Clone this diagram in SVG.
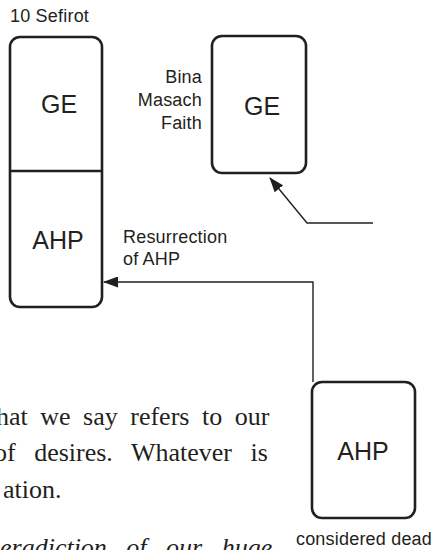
<svg xmlns="http://www.w3.org/2000/svg" width="437" height="550" viewBox="0 0 437 550">
<style>
.box{fill:#fff;stroke:#231f20;stroke-width:2.6}
.lbl{font-family:"Liberation Sans",Arial,sans-serif;fill:#231f20}
.big{font-size:25px;text-anchor:middle}
.sm{font-size:18px;letter-spacing:0.2px}
.conn{fill:none;stroke:#231f20;stroke-width:1.4}
.body{font-family:"Liberation Serif","Times New Roman",serif;font-size:26px;fill:#231f20}
</style>
<defs>
<marker id="ah" viewBox="0 0 15 11" refX="14" refY="5.5" markerWidth="15" markerHeight="11" markerUnits="userSpaceOnUse" orient="auto">
<path d="M0,0 L15,5.5 L0,11 Z" fill="#231f20"/>
</marker>
</defs>
<text class="lbl sm" x="10" y="22" letter-spacing="0.5">10 Sefirot</text>
<g id="left-column">
<rect class="box" x="10" y="37" width="92" height="270" rx="10"/>
<line x1="10" y1="171" x2="102" y2="171" stroke="#231f20" stroke-width="2.6"/>
<text class="lbl big" x="59" y="113">GE</text>
<text class="lbl big" x="58" y="249">AHP</text>
</g>
<g id="right-ge">
<rect class="box" x="212" y="36" width="94" height="137" rx="10"/>
<text class="lbl big" x="262" y="115">GE</text>
<text class="lbl sm" x="202" y="83" text-anchor="end">Bina</text>
<text class="lbl sm" x="202" y="106" text-anchor="end">Masach</text>
<text class="lbl sm" x="202" y="129" text-anchor="end">Faith</text>
</g>
<g id="dead-ahp">
<rect class="box" x="312" y="382" width="103" height="136" rx="10"/>
<text class="lbl big" x="363" y="460">AHP</text>
<text class="lbl sm" x="364" y="545" text-anchor="middle">considered dead</text>
</g>
<g id="connectors">
<polyline class="conn" points="373,223 307,223 270,178" marker-end="url(#ah)"/>
<polyline class="conn" points="313,382 313,282 104,282" marker-end="url(#ah)"/>
<text class="lbl sm" x="123" y="243" letter-spacing="0.6">Resurrection</text>
<text class="lbl sm" x="123" y="265">of AHP</text>
</g>
<g id="body-text">
<text class="body" x="-4" y="425" word-spacing="6">hat we say refers to our</text>
<text class="body" x="-6" y="461" word-spacing="12">of desires. Whatever is</text>
<text class="body" x="3" y="498">ation.</text>
<text class="body" x="0" y="556" font-style="italic" word-spacing="13">eradiction of our huge</text>
</g>
</svg>
